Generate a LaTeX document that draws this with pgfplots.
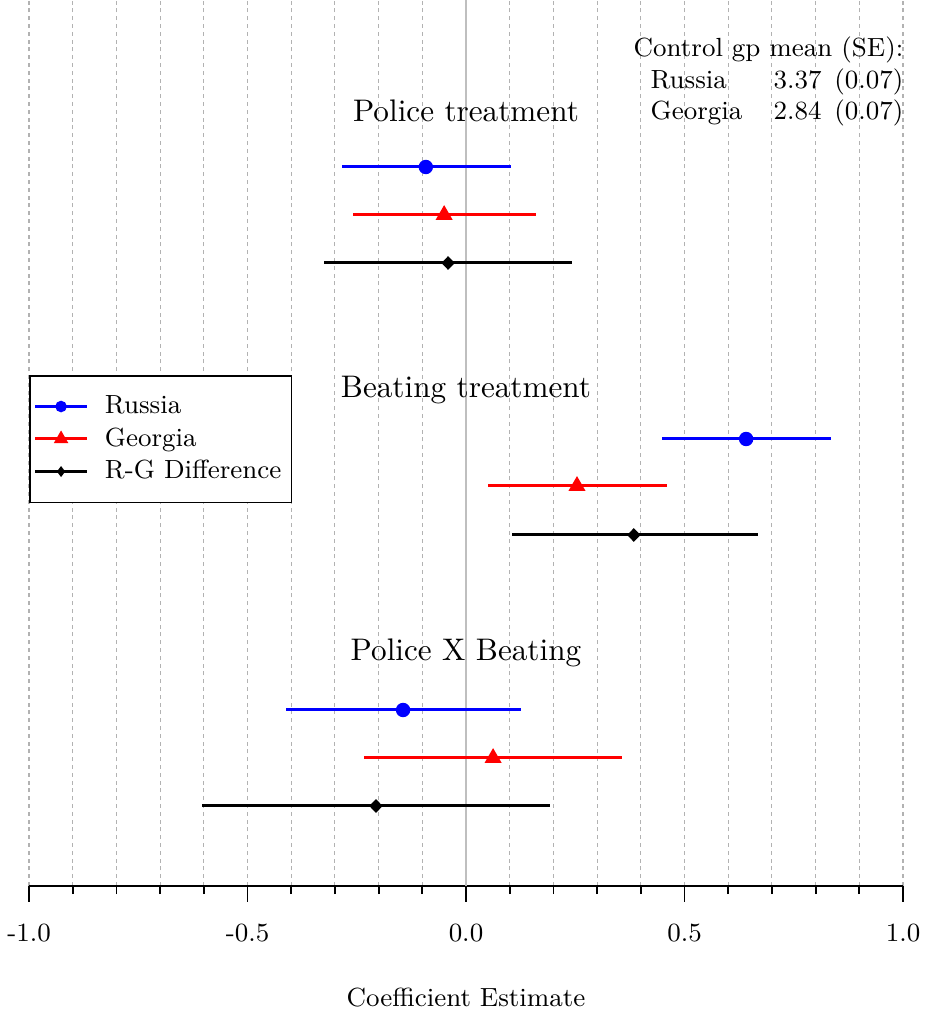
\documentclass[border=0pt]{standalone}
\usepackage{pgfplots}
\pgfplotsset{compat=1.18}
\begin{document}
\fontsize{8.75}{10.5}\selectfont
\begin{tikzpicture}
\begin{axis}[
 scale only axis,
 width=291.33pt, height=295.33pt,
 xmin=-1, xmax=1, ymin=0, ymax=886,
 clip=false,
 axis x line*=bottom,
 axis y line=none,
 axis line style={-, line width=0.7pt},
 xtick={-1,-0.5,0,0.5,1},
 xticklabels={-1.0,-0.5,0.0,0.5,1.0},
 minor x tick num=4,
 tick align=outside,
 major tick length=5.3pt,
 minor tick length=2.7pt,
 every tick/.style={black, line width=0.6pt},
 xmajorgrids, xminorgrids,
 major grid style={gray!60, dash pattern=on 1.3pt off 1.3pt, line width=0.35pt},
 minor grid style={gray!60, dash pattern=on 1.3pt off 1.3pt, line width=0.35pt},
 xticklabel style={anchor=base, inner sep=0pt, yshift=-13.2pt},
 xticklabel shift=0pt,
 xlabel={Coefficient Estimate},
 x label style={at={(axis description cs:0.5,0)}, anchor=base, yshift=-40.3pt, inner sep=0pt},
 legend style={at={(0,0.5767)}, anchor=north west, draw=black, line width=0.5pt,
   inner xsep=1.4pt, inner ysep=4.6pt, row sep=-0.6pt,
   /tikz/every odd column/.append style={column sep=3.6pt}},
 legend cell align=left,
]
\addplot[forget plot, color=gray!50, line width=0.5pt] coordinates {(0,0) (0,886)};

\addlegendimage{blue, line width=1pt, mark=*, mark size=1.4pt}
\addlegendentry{Russia}
\addlegendimage{red, line width=1pt, mark=triangle*, mark size=1.8pt}
\addlegendentry{Georgia}
\addlegendimage{black, line width=1pt, mark=diamond*, mark size=1pt}
\addlegendentry{R-G Difference}

\addplot[forget plot, blue, only marks, mark=*, mark size=2.2pt,
  error bars/.cd, x dir=both, x explicit, error mark=none,
  error bar style={line width=1pt, blue}] coordinates {
(-0.092,719) += (0.195,0) -= (0.192,0)
(0.641,447) += (0.194,0) -= (0.192,0)
(-0.144,176) += (0.270,0) -= (0.268,0)
};
\addplot[forget plot, red, only marks, mark=triangle*, mark size=2.9pt,
  error bars/.cd, x dir=both, x explicit, error mark=none,
  error bar style={line width=1pt, red}] coordinates {
(-0.050,671) += (0.210,0) -= (0.209,0)
(0.254,400) += (0.206,0) -= (0.204,0)
(0.062,128) += (0.295,0) -= (0.295,0)
};
\addplot[forget plot, black, only marks, mark=diamond*, mark size=2pt, mark options={xscale=1.3},
  error bars/.cd, x dir=both, x explicit, error mark=none,
  error bar style={line width=1pt, black}] coordinates {
(-0.041,623) += (0.284,0) -= (0.284,0)
(0.384,351) += (0.284,0) -= (0.279,0)
(-0.206,80) += (0.398,0) -= (0.398,0)
};

\node[anchor=base, font=\fontsize{10.4}{12}\selectfont] at (axis cs:0,764) {Police treatment};
\node[anchor=base, font=\fontsize{10.4}{12}\selectfont] at (axis cs:0,488) {Beating treatment};
\node[anchor=base, font=\fontsize{10.4}{12}\selectfont] at (axis cs:0,225) {Police X Beating};

\node[anchor=base east, inner sep=0pt] at (axis cs:1.002,830) {Control gp mean (SE):};
\node[anchor=base west, inner sep=0pt] at (axis cs:0.421,797) {Russia};
\node[anchor=base east, inner sep=0pt] at (axis cs:0.815,797) {3.37};
\node[anchor=base east, inner sep=0pt] at (axis cs:1.002,797) {(0.07)};
\node[anchor=base west, inner sep=0pt] at (axis cs:0.421,766) {Georgia};
\node[anchor=base east, inner sep=0pt] at (axis cs:0.815,766) {2.84};
\node[anchor=base east, inner sep=0pt] at (axis cs:1.002,766) {(0.07)};
\end{axis}
\pgfresetboundingbox
\path[use as bounding box] ([shift={(-9.667pt,-41.667pt)}]current axis.south west) rectangle ([shift={(7.667pt,0pt)}]current axis.north east);
\end{tikzpicture}
\end{document}
